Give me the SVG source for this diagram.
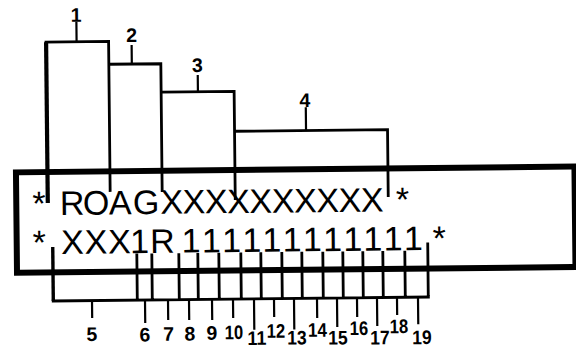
<svg xmlns="http://www.w3.org/2000/svg" width="576" height="349" viewBox="0 0 576 349">
<style>
.ln{fill:none;stroke:#000;stroke-width:2.8;stroke-linecap:butt;stroke-linejoin:miter}
.tk{fill:none;stroke:#000;stroke-width:2.2}
.big{font-family:"Liberation Sans",Arial,Helvetica,sans-serif;font-size:34px;fill:#000}
.lb{font-family:"Liberation Sans",Arial,Helvetica,sans-serif;font-size:19.5px;font-weight:bold;fill:#000;text-anchor:middle}
</style>
<rect width="576" height="349" fill="#fff"/>
<g transform="rotate(-0.6 288 175)">
<g id="frame">
<rect x="16" y="169.5" width="558.5" height="100.5" fill="none" stroke="#000" stroke-width="6"/>
</g>
<g id="row1">
<text class="big" y="212.5" x="32 59.5 82.5 108.5 132.5 160 182.3 204.6 226.9 249.2 271.5 293.8 316.1 338.4 360.7 395.5">*ROAGXXXXXXXXXX*</text>
</g>
<g id="row2">
<text class="big" y="251.5" x="32 60.5 84 107.5 129.5 149.5 181 201.2 221.4 241.6 261.8 282 302.2 322.4 342.6 362.8 383 403.2 432">*XXX1R111111111111*</text>
</g>
<g id="connectors">
<path class="ln" style="stroke-width:4.2" d="M47.5 200.5V39.6"/>
<path class="ln" d="M46 39.6H110V190"/>
<path class="ln" d="M110 62.4H162V190.7"/>
<path class="ln" d="M162 90.8H235V199.5"/>
<path class="ln" d="M235 130.7H388V198"/>
<path class="tk" d="M78 19.5V39.6M133 43.4V62.4M198.8 74V90.8M306.5 107.5V130.7"/>
<path class="ln" style="stroke-width:3.4" d="M52 244.5V298.5"/>
<path class="ln" d="M50.5 298.5H428.5M427 244V298.5M136 252V298.5M151 252V298.5M178 252V298.5M197 252V298.5M218 252V298.5M240 252V298.5M260 252V298.5M281 252V298.5M301 252V298.5M322 252V298.5M342 252V298.5M362 252V298.5M382 252V298.5M404 252V298.5"/>
<path class="tk" d="M90.7 298.5V316M143.7 298.5V321.5M166.7 298.5V318.7M187.7 298.5V319M210.7 298.5V319.2M231.7 298.5V317.4M252.7 298.5V329.5M272.7 298.5V316.9M292.7 298.5V329.5M315.7 298.5V318.3M335.7 298.5V327.5M355.7 298.5V317.7M375.7 298.5V327M395.7 298.5V316.1M416.7 298.5V325.5"/>
</g>
<g id="label-1"><text class="lb" x="77.7" y="19.5">1</text></g>
<g id="label-2"><text class="lb" x="133" y="40.4">2</text></g>
<g id="label-3"><text class="lb" x="198.6" y="71">3</text></g>
<g id="label-4"><text class="lb" x="305.7" y="107">4</text></g>
<g id="label-5"><text class="lb" x="90.3" y="339">5</text></g>
<g id="label-6"><text class="lb" x="143.3" y="340">6</text></g>
<g id="label-7"><text class="lb" x="167" y="339.5">7</text></g>
<g id="label-8"><text class="lb" x="188.3" y="339.5">8</text></g>
<g id="label-9"><text class="lb" x="210.3" y="339">9</text></g>
<g id="label-10"><text class="lb" x="232.3" y="338.5" textLength="18.5" lengthAdjust="spacingAndGlyphs">10</text></g>
<g id="label-11"><text class="lb" x="255.3" y="344.5" textLength="19" lengthAdjust="spacingAndGlyphs">11</text></g>
<g id="label-12"><text class="lb" x="274.3" y="337.5" textLength="18.5" lengthAdjust="spacingAndGlyphs">12</text></g>
<g id="label-13"><text class="lb" x="295.3" y="344.5" textLength="19.5" lengthAdjust="spacingAndGlyphs">13</text></g>
<g id="label-14"><text class="lb" x="315.8" y="337" textLength="19" lengthAdjust="spacingAndGlyphs">14</text></g>
<g id="label-15"><text class="lb" x="336.3" y="345" textLength="19.5" lengthAdjust="spacingAndGlyphs">15</text></g>
<g id="label-16"><text class="lb" x="357.3" y="335.7" textLength="18.5" lengthAdjust="spacingAndGlyphs">16</text></g>
<g id="label-17"><text class="lb" x="378.3" y="345.3" textLength="19.5" lengthAdjust="spacingAndGlyphs">17</text></g>
<g id="label-18"><text class="lb" x="397.3" y="334.2" textLength="18.5" lengthAdjust="spacingAndGlyphs">18</text></g>
<g id="label-19"><text class="lb" x="420.3" y="345.5" textLength="19.5" lengthAdjust="spacingAndGlyphs">19</text></g>
</g>
</svg>
